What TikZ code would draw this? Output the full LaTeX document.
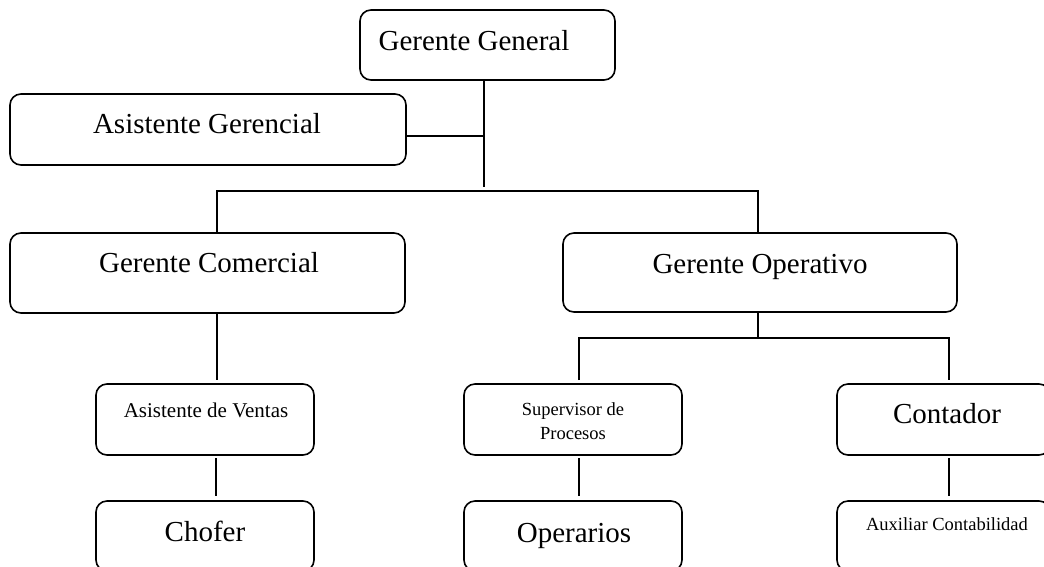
\documentclass[tikz,border=0pt]{standalone}
\usepackage{fontspec}
\setmainfont{Liberation Serif}
\begin{document}
\begin{tikzpicture}[x=1pt,y=-1pt,
  box/.style={draw, line width=1.6pt, rounded corners=11pt, inner sep=0pt},
  wire/.style={line width=1.3pt},
  big/.style={font=\fontsize{29}{32}\selectfont, anchor=base, inner sep=0pt},
  mid/.style={font=\fontsize{21}{24}\selectfont, anchor=base, inner sep=0pt},
  small/.style={font=\fontsize{18.5}{22}\selectfont, anchor=base, inner sep=0pt}]
\useasboundingbox (0,0) rectangle (1044,566);
\fill[white] (0,0) rectangle (1044,566);
\clip (0,0) rectangle (1044,566);

% boxes
\node[box, minimum width=255pt, minimum height=70pt] (gg) at (487.5,45) {};
\node[box, minimum width=396pt, minimum height=71pt] (ag) at (208,129.5) {};
\node[box, minimum width=395pt, minimum height=80pt] (gc) at (207.5,273) {};
\node[box, minimum width=394pt, minimum height=79pt] (go) at (760,272.5) {};
\node[box, minimum width=218pt, minimum height=71pt] (av) at (205,419.5) {};
\node[box, minimum width=218pt, minimum height=71pt] (sp) at (573,419.5) {};
\node[box, minimum width=213pt, minimum height=71pt] (ct) at (943.5,419.5) {};
\node[box, minimum width=218pt, minimum height=70pt] (ch) at (205,536) {};
\node[box, minimum width=218pt, minimum height=70pt] (op) at (573,536) {};
\node[box, minimum width=213pt, minimum height=70pt] (ax) at (943.5,536) {};

% labels
\node[big] (tgg) at (474,50) {Gerente General};
\node[big] (tag) at (207,133) {Asistente Gerencial};
\node[big] (tgc) at (209,272) {Gerente Comercial};
\node[big] (tgo) at (760,273) {Gerente Operativo};
\node[mid] (tav) at (206,417) {Asistente de Ventas};
\node[small] (tsp1) at (573,415) {Supervisor de};
\node[small] (tsp2) at (573,439) {Procesos};
\node[big] (tct) at (947,423) {Contador};
\node[big] (tch) at (205,541) {Chofer};
\node[big] (top) at (574,542) {Operarios};
\node[small] (tax) at (947,530) {Auxiliar Contabilidad};

% junction points
\coordinate (ggend) at (484,187);
\coordinate (agj) at (484,136);
\coordinate (b1) at (217,191);
\coordinate (b2) at (758,191);
\coordinate (c1) at (217,380);
\coordinate (o1) at (758,338);
\coordinate (s1) at (579,338);
\coordinate (s2) at (949,338);
\coordinate (s1e) at (579,380);
\coordinate (s2e) at (949,380);
\coordinate (v1) at (216,458);
\coordinate (v2) at (216,496);
\coordinate (p1) at (579,458);
\coordinate (p2) at (579,496);
\coordinate (q1) at (949,458);
\coordinate (q2) at (949,496);

% connectors
\draw[wire] (ggend |- gg.south) -- (ggend);
\draw[wire] (agj -| ag.east) -- (agj);
\draw[wire] (b1 |- gc.north) -- (b1) -- (b2) -- (b2 |- go.north);
\draw[wire] (c1 |- gc.south) -- (c1);
\draw[wire] (o1 |- go.south) -- (o1);
\draw[wire] (s1e) -- (s1) -- (s2) -- (s2e);
\draw[wire] (v1) -- (v2);
\draw[wire] (p1) -- (p2);
\draw[wire] (q1) -- (q2);
\end{tikzpicture}
\end{document}
